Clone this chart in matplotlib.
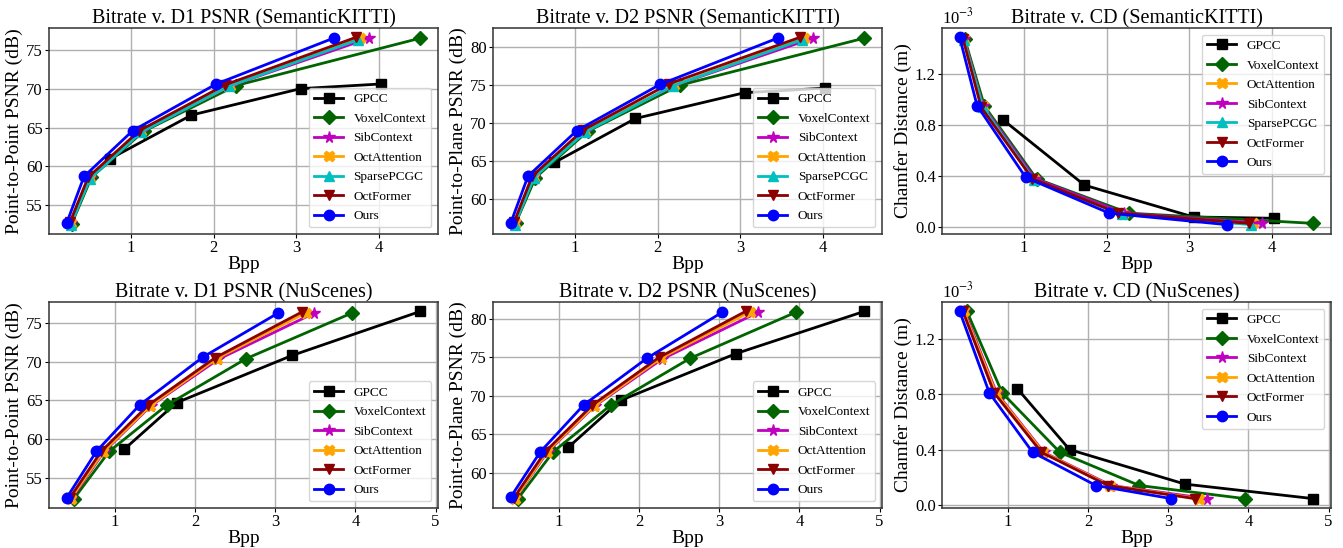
import matplotlib.pyplot as plt
from matplotlib.ticker import MultipleLocator

plt.rcParams['font.family'] = ['Liberation Serif', 'DejaVu Serif']
plt.rcParams['mathtext.fontset'] = 'stix'

# ---- SemanticKITTI ----
kitti_bpp = {
    "GPCC": [0.75, 1.73, 3.05, 4.02],
    "VoxelContext": [0.28, 0.52, 1.15, 2.27, 4.50],
    "SibContext": [0.27, 0.50, 1.13, 2.21, 3.88],
    "OctAttention": [0.27, 0.50, 1.12, 2.20, 3.77],
    "SparsePCGC": [0.27, 0.50, 1.12, 2.18, 3.75],
    "OctFormer": [0.26, 0.48, 1.10, 2.14, 3.72],
    "Ours": [0.22, 0.43, 1.02, 2.03, 3.45],
}
kitti_d1 = {
    "GPCC": [61.0, 66.6, 70.0, 70.6],
    "VoxelContext": [52.6, 58.6, 64.5, 70.4, 76.5],
    "SibContext": [52.7, 58.5, 64.5, 70.4, 76.5],
    "OctAttention": [52.7, 58.5, 64.5, 70.4, 76.5],
    "SparsePCGC": [52.5, 58.4, 64.4, 70.3, 76.3],
    "OctFormer": [52.8, 58.6, 64.6, 70.5, 76.6],
    "Ours": [52.7, 58.7, 64.6, 70.6, 76.5],
}
kitti_d2 = {
    "GPCC": [64.8, 70.6, 74.0, 74.6],
    "VoxelContext": [56.8, 62.8, 68.9, 75.0, 81.2],
    "SibContext": [56.8, 62.9, 69.0, 75.0, 81.2],
    "OctAttention": [56.8, 62.9, 69.0, 75.0, 81.2],
    "SparsePCGC": [56.6, 62.8, 68.8, 74.9, 81.0],
    "OctFormer": [56.9, 63.0, 69.1, 75.2, 81.3],
    "Ours": [56.8, 63.0, 69.0, 75.1, 81.2],
}
# chamfer distance in units of 1e-3 m
kitti_cd = {
    "GPCC": [0.84, 0.33, 0.08, 0.07],
    "VoxelContext": [1.48, 0.95, 0.38, 0.11, 0.03],
    "SibContext": [1.48, 0.95, 0.38, 0.11, 0.03],
    "OctAttention": [1.48, 0.95, 0.38, 0.10, 0.03],
    "SparsePCGC": [1.47, 0.94, 0.37, 0.10, 0.02],
    "OctFormer": [1.48, 0.94, 0.38, 0.11, 0.03],
    "Ours": [1.49, 0.955, 0.39, 0.11, 0.02],
}

# ---- NuScenes ----
nu_bpp = {
    "GPCC": [1.12, 1.77, 3.21, 4.81],
    "VoxelContext": [0.49, 0.93, 1.65, 2.64, 3.96],
    "SibContext": [0.46, 0.86, 1.45, 2.29, 3.49],
    "OctAttention": [0.45, 0.85, 1.44, 2.27, 3.38],
    "OctFormer": [0.44, 0.83, 1.42, 2.25, 3.33],
    "Ours": [0.40, 0.77, 1.31, 2.10, 3.04],
}
nu_d1 = {
    "GPCC": [58.7, 64.7, 70.8, 76.5],
    "VoxelContext": [52.3, 58.4, 64.4, 70.4, 76.3],
    "SibContext": [52.3, 58.3, 64.3, 70.3, 76.3],
    "OctAttention": [52.3, 58.3, 64.3, 70.4, 76.3],
    "OctFormer": [52.4, 58.4, 64.4, 70.5, 76.4],
    "Ours": [52.4, 58.4, 64.4, 70.6, 76.3],
}
nu_d2 = {
    "GPCC": [63.3, 69.4, 75.5, 81.0],
    "VoxelContext": [56.6, 62.7, 68.8, 74.9, 80.9],
    "SibContext": [56.7, 62.7, 68.7, 74.8, 80.9],
    "OctAttention": [56.6, 62.7, 68.7, 74.9, 80.9],
    "OctFormer": [56.7, 62.7, 68.8, 75.0, 81.0],
    "Ours": [56.8, 62.7, 68.8, 74.9, 80.9],
}
nu_cd = {
    "GPCC": [0.84, 0.40, 0.15, 0.045],
    "VoxelContext": [1.40, 0.81, 0.38, 0.14, 0.045],
    "SibContext": [1.40, 0.81, 0.38, 0.14, 0.045],
    "OctAttention": [1.40, 0.81, 0.38, 0.14, 0.045],
    "OctFormer": [1.40, 0.81, 0.38, 0.14, 0.045],
    "Ours": [1.40, 0.81, 0.38, 0.14, 0.045],
}

styles = {
    "GPCC": ("black", "s"),
    "VoxelContext": ("darkgreen", "D"),
    "SibContext": ("m", "*"),
    "OctAttention": ("orange", "X"),
    "SparsePCGC": ("c", "^"),
    "OctFormer": ("darkred", "v"),
    "Ours": ("b", "o"),
}

kitti_order = ["GPCC", "VoxelContext", "SibContext", "OctAttention", "SparsePCGC", "OctFormer", "Ours"]
kitti_cd_order = ["GPCC", "VoxelContext", "OctAttention", "SibContext", "SparsePCGC", "OctFormer", "Ours"]
nu_order = ["GPCC", "VoxelContext", "SibContext", "OctAttention", "OctFormer", "Ours"]

fig = plt.figure(figsize=(13.43, 5.48), dpi=100)

W, H = 1343, 548
lefts = [49, 493, 942]
width = 389
tops = [28, 302]
height = 206

panels = [
    (0, 0, kitti_bpp, kitti_d1, kitti_order, "Bitrate v. D1 PSNR (SemanticKITTI)", "Point-to-Point PSNR (dB)", "lower right", False),
    (0, 1, kitti_bpp, kitti_d2, kitti_order, "Bitrate v. D2 PSNR (SemanticKITTI)", "Point-to-Plane PSNR (dB)", "lower right", False),
    (0, 2, kitti_bpp, kitti_cd, kitti_cd_order, "Bitrate v. CD (SemanticKITTI)", "Chamfer Distance (m)", "upper right", True),
    (1, 0, nu_bpp, nu_d1, nu_order, "Bitrate v. D1 PSNR (NuScenes)", "Point-to-Point PSNR (dB)", "lower right", False),
    (1, 1, nu_bpp, nu_d2, nu_order, "Bitrate v. D2 PSNR (NuScenes)", "Point-to-Plane PSNR (dB)", "lower right", False),
    (1, 2, nu_bpp, nu_cd, nu_order, "Bitrate v. CD (NuScenes)", "Chamfer Distance (m)", "upper right", True),
]

for r, c, xs, ys, order, title, ylabel, loc, is_cd in panels:
    ax = fig.add_axes([lefts[c] / W, 1 - (tops[r] + height) / H, width / W, height / H])
    for name in order:
        color, marker = styles[name]
        ms = 8.5 if marker == "*" else 7.5
        ax.plot(xs[name], ys[name], color=color, marker=marker, markersize=ms,
                linewidth=2.0, label=name)
    ax.grid(True, color='#b0b0b0', linewidth=1)
    for sp in ax.spines.values():
        sp.set_color('#333333')
        sp.set_linewidth(1.1)
    ax.set_title(title, fontsize=14.5, pad=3)
    ax.set_xlabel("Bpp", fontsize=14, labelpad=0)
    ax.set_ylabel(ylabel, fontsize=14, labelpad=2)
    ax.tick_params(labelsize=12, length=3, pad=1.5)
    ax.xaxis.set_major_locator(MultipleLocator(1))
    if is_cd:
        ax.yaxis.set_major_locator(MultipleLocator(0.4))
        ax.yaxis.set_major_formatter(plt.FormatStrFormatter('%.1f'))
        ax.text(0.0, 1.005, r'10$^{-3}$', transform=ax.transAxes, fontsize=12, ha='left', va='bottom')
    else:
        ax.yaxis.set_major_locator(MultipleLocator(5))
    ax.legend(loc=loc, fontsize=9.5, handlelength=2.2, labelspacing=0.55)

fig.savefig("out.png", dpi=100)
